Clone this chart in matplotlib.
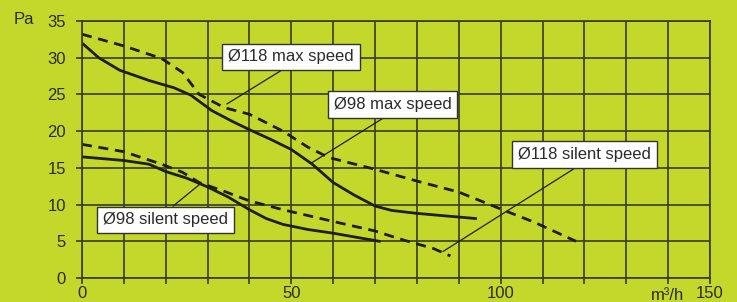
import matplotlib
matplotlib.use("Agg")
import matplotlib.pyplot as plt

plt.rcParams['font.family'] = ['Liberation Sans', 'DejaVu Sans']

# ---- data ----
x_118_max = [0, 10, 19, 24, 28, 34, 40, 48, 54, 59, 70, 80, 90, 100, 108, 118]
y_118_max = [33.2, 31.6, 29.9, 28.0, 25.0, 23.2, 22.3, 20.0, 17.8, 16.4, 14.8, 13.2, 11.7, 9.4, 7.6, 5.0]

x_98_max = [0, 4, 9, 16, 22, 26, 31, 36, 40, 45, 50, 55, 60, 65, 70, 74, 80, 94]
y_98_max = [32.0, 30.0, 28.3, 26.9, 25.9, 24.9, 22.8, 21.3, 20.2, 18.9, 17.5, 15.5, 13.0, 11.3, 9.8, 9.2, 8.8, 8.1]

x_118_sil = [0, 10, 19, 24, 28, 34, 40, 48, 60, 70, 76, 84, 88]
y_118_sil = [18.2, 17.2, 15.5, 14.4, 13.0, 11.8, 10.5, 9.3, 7.7, 6.4, 5.3, 4.0, 3.0]

x_98_sil = [0, 10, 16, 20, 25, 30, 35, 40, 44, 48, 54, 60, 66, 71]
y_98_sil = [16.5, 16.0, 15.5, 14.5, 13.6, 12.4, 11.0, 9.3, 8.1, 7.3, 6.6, 6.1, 5.5, 5.0]

labels = ['Ø118 max speed', 'Ø98 max speed', 'Ø98 silent speed', 'Ø118 silent speed']

x_ticks_labeled = [0, 50, 100, 150]
y_ticks = [0, 5, 10, 15, 20, 25, 30, 35]

# ---- style ----
bg = '#c3d82b'
grid_c = '#3a3a2c'
txt_c = '#2b2b2b'
line_c = '#1e1e1e'

fig = plt.figure(figsize=(7.37, 3.02), dpi=100, facecolor=bg)
ax = fig.add_axes([82/737, 24/302, 628/737, 257/302])
ax.set_facecolor(bg)

ax.set_xlim(0, 150)
ax.set_ylim(0, 35)

xt = list(range(0, 151, 10))
ax.set_xticks(xt)
ax.set_xticklabels([str(v) if v in x_ticks_labeled else '' for v in xt])
ax.set_yticks(y_ticks)
ax.set_yticklabels([str(v) for v in y_ticks])
ax.grid(True, color=grid_c, lw=1.2)
ax.set_axisbelow(True)
ax.tick_params(axis='x', length=4.5, width=1.2, color=grid_c, pad=1.2, labelsize=12, labelcolor=txt_c)
ax.tick_params(axis='y', length=4.5, width=1.2, color=grid_c, pad=7, labelsize=12, labelcolor=txt_c)
for s in ax.spines.values():
    s.set_color(grid_c)
    s.set_linewidth(1.2)

dash = (0, (3.6, 2.4))
ax.plot(x_118_max, y_118_max, color=line_c, lw=2.0, linestyle=dash)
ax.plot(x_98_max, y_98_max, color=line_c, lw=2.0)
ax.plot(x_118_sil, y_118_sil, color=line_c, lw=2.0, linestyle=dash)
ax.plot(x_98_sil, y_98_sil, color=line_c, lw=2.0)

bbox = dict(boxstyle='square,pad=0.35', fc='white', ec='#333333', lw=1.0)
ann = [
    (labels[0], (34.6, 23.7), (49.9, 30.1), (0.5, 0)),
    (labels[1], (54.9, 15.7), (74.2, 23.6), (0.5, 0)),
    (labels[2], (28.2, 12.8), (19.9, 7.9), (0.5, 1)),
    (labels[3], (86.2, 3.6), (120.0, 16.8), (0.5, 0)),
]
for t, tip, ctr, rp in ann:
    ax.annotate(t, xy=tip, xytext=ctr, ha='center', va='center', fontsize=12,
                color=txt_c, bbox=bbox,
                arrowprops=dict(arrowstyle='-', lw=0.9, color=line_c, relpos=rp,
                                shrinkA=0, shrinkB=0))

fig.text(34/737, 1 - 20/302, 'Pa', ha='right', va='center', fontsize=12, color=txt_c)
fig.text(684/737, 1 - 295/302, 'm³/h', ha='right', va='center', fontsize=12, color=txt_c)

fig.savefig('out.png', dpi=100, facecolor=bg)
